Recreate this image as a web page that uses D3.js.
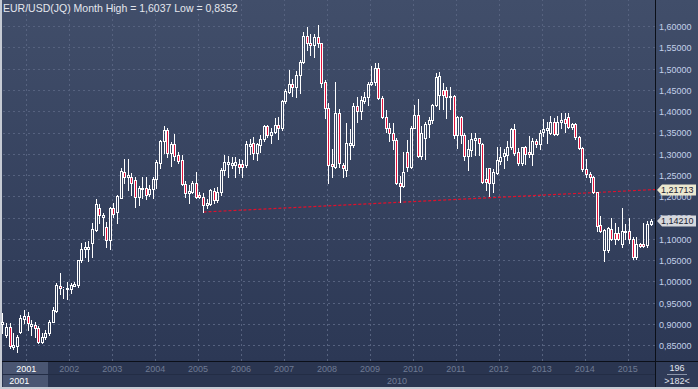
<!DOCTYPE html>
<html>
<head>
<meta charset="utf-8">
<script src="https://cdn.jsdelivr.net/npm/d3@7/dist/d3.min.js"></script>
<style>
body { margin: 0; background: #c6cbd4; }
svg { display: block; }
text { font-family: "Liberation Sans", Arial, sans-serif; font-size: 9px; }
</style>
</head>
<body>
<script>
// monthly EUR/USD bars
var opens = [0.902,0.875,0.895,0.848,0.849,0.883,0.912,0.920,0.896,0.899,0.891,0.859,0.871,0.880,0.906,0.932,0.991,0.985,0.983,0.983,
0.991,0.993,1.051,1.077,1.077,1.092,1.122,1.173,1.153,1.128,1.098,1.173,1.165,1.197,1.259,1.247,1.247,1.240,1.199,1.218,
1.220,1.207,1.218,1.243,1.280,1.332,1.357,1.302,1.324,1.298,1.287,1.230,1.210,1.212,1.233,1.204,1.199,1.181,1.183,1.214,
1.192,1.212,1.263,1.277,1.275,1.275,1.277,1.277,1.275,1.320,1.327,1.304,1.322,1.335,1.367,1.345,1.353,1.369,1.361,1.426,
1.447,1.465,1.459,1.486,1.518,1.578,1.562,1.557,1.576,1.561,1.471,1.408,1.277,1.271,1.396,1.275,1.263,1.322,1.322,1.413,
1.402,1.426,1.434,1.465,1.471,1.502,1.432,1.387,1.363,1.351,1.334,1.232,1.225,1.306,1.269,1.363,1.392,1.296,1.338,1.371,
1.381,1.416,1.439,1.451,1.451,1.437,1.437,1.345,1.387,1.345,1.296,1.310,1.334,1.338,1.324,1.241,1.267,1.232,1.257,1.285,
1.296,1.298,1.318,1.359,1.306,1.280,1.316,1.306,1.300,1.332,1.324,1.353,1.356,1.349,1.377,1.348,1.377,1.382,1.387,1.365,
1.371,1.340,1.314,1.265,1.254,1.246,1.212,1.134,1.075,1.075,1.124,1.116,1.116,1.089,1.118,1.120,1.102,1.058,1.089,1.089,
1.087,1.136];
var highs = [0.926,0.904,0.904,0.880,0.875,0.922,0.934,0.930,0.910,0.906,0.896,0.879,0.887,0.910,0.942,0.997,1.022,0.989,1.000,0.997,
1.000,1.051,1.092,1.094,1.097,1.138,1.194,1.183,1.161,1.141,1.177,1.186,1.204,1.267,1.290,1.288,1.255,1.247,1.225,1.247,
1.247,1.228,1.247,1.287,1.334,1.367,1.361,1.330,1.348,1.306,1.298,1.238,1.228,1.238,1.259,1.212,1.208,1.194,1.218,1.220,
1.224,1.267,1.298,1.296,1.294,1.294,1.288,1.287,1.332,1.335,1.340,1.327,1.345,1.369,1.369,1.361,1.385,1.387,1.428,1.453,
1.498,1.476,1.497,1.522,1.588,1.600,1.584,1.584,1.6037,1.562,1.475,1.420,1.312,1.471,1.406,1.280,1.373,1.359,1.420,1.435,
1.437,1.447,1.471,1.508,1.515,1.515,1.437,1.404,1.373,1.373,1.338,1.249,1.306,1.334,1.367,1.416,1.429,1.367,1.377,1.387,
1.418,1.490,1.494,1.467,1.459,1.459,1.439,1.389,1.389,1.349,1.334,1.349,1.349,1.338,1.327,1.267,1.267,1.265,1.318,1.316,
1.312,1.332,1.361,1.371,1.314,1.318,1.320,1.343,1.338,1.335,1.357,1.382,1.377,1.390,1.385,1.389,1.396,1.396,1.398,1.374,
1.373,1.343,1.318,1.288,1.259,1.249,1.212,1.155,1.124,1.130,1.150,1.139,1.130,1.173,1.136,1.150,1.106,1.106,1.092,1.138,
1.144,1.147];
var lows = [0.879,0.871,0.844,0.842,0.8352,0.879,0.903,0.887,0.875,0.871,0.857,0.857,0.865,0.875,0.906,0.930,0.972,0.961,0.959,0.973,
0.990,0.989,1.047,1.058,1.050,1.059,1.120,1.138,1.110,1.083,1.077,1.153,1.138,1.197,1.233,1.216,1.204,1.177,1.181,1.197,
1.194,1.202,1.197,1.220,1.267,1.302,1.294,1.272,1.287,1.279,1.228,1.199,1.186,1.208,1.197,1.197,1.165,1.173,1.181,1.185,
1.189,1.204,1.251,1.247,1.267,1.246,1.257,1.247,1.269,1.301,1.288,1.287,1.306,1.332,1.341,1.326,1.349,1.335,1.356,1.420,
1.443,1.437,1.435,1.443,1.515,1.545,1.533,1.528,1.553,1.459,1.385,1.232,1.247,1.267,1.271,1.247,1.249,1.288,1.318,1.377,
1.382,1.420,1.416,1.463,1.463,1.429,1.385,1.353,1.332,1.312,1.230,1.189,1.224,1.261,1.267,1.361,1.294,1.288,1.288,1.341,
1.374,1.414,1.406,1.406,1.385,1.406,1.338,1.314,1.327,1.287,1.263,1.296,1.298,1.298,1.233,1.216,1.202,1.212,1.254,1.277,
1.267,1.287,1.312,1.298,1.275,1.275,1.277,1.294,1.275,1.316,1.312,1.343,1.327,1.347,1.345,1.345,1.361,1.353,1.361,1.359,
1.335,1.312,1.261,1.247,1.236,1.210,1.120,1.118,1.050,1.071,1.098,1.089,1.098,1.083,1.102,1.091,1.055,1.053,1.083,1.083,
1.083,1.134];
var closes = [0.905,0.895,0.849,0.851,0.871,0.914,0.920,0.903,0.901,0.891,0.859,0.871,0.880,0.906,0.935,0.993,0.985,0.986,0.986,0.993,
0.994,1.051,1.077,1.081,1.083,1.124,1.183,1.157,1.157,1.098,1.173,1.160,1.202,1.261,1.247,1.251,1.232,1.199,1.220,1.220,
1.204,1.218,1.243,1.283,1.332,1.357,1.302,1.324,1.296,1.285,1.230,1.210,1.214,1.233,1.200,1.199,1.181,1.185,1.216,1.192,
1.212,1.263,1.283,1.283,1.280,1.283,1.269,1.269,1.324,1.324,1.304,1.324,1.335,1.367,1.345,1.353,1.369,1.363,1.426,1.450,
1.465,1.459,1.486,1.518,1.578,1.561,1.557,1.576,1.561,1.467,1.408,1.275,1.273,1.396,1.280,1.267,1.326,1.327,1.414,1.402,
1.428,1.434,1.465,1.471,1.502,1.432,1.387,1.361,1.351,1.334,1.232,1.225,1.259,1.269,1.363,1.392,1.296,1.349,1.371,1.381,
1.416,1.481,1.483,1.439,1.435,1.435,1.345,1.387,1.345,1.296,1.312,1.335,1.338,1.326,1.236,1.236,1.232,1.259,1.287,1.294,
1.302,1.318,1.359,1.304,1.280,1.316,1.300,1.300,1.332,1.324,1.351,1.359,1.361,1.377,1.348,1.377,1.381,1.374,1.365,1.371,
1.340,1.314,1.265,1.254,1.246,1.212,1.131,1.120,1.122,1.126,1.100,1.100,1.100,1.120,1.120,1.102,1.058,1.089,1.084,1.084,
1.136,1.1421];

var years = ["2001","2002","2003","2004","2005","2006","2007","2008","2009","2010","2011","2012","2013","2014","2015"];
var firstYearBar = 7;      // bar where the 2001 label sits
var barsPerYear = 12;
var yTicks = [0.85,0.90,0.95,1.00,1.05,1.10,1.15,1.20,1.25,1.30,1.35,1.40,1.45,1.50,1.55,1.60];
var trendStartBar = 56, trendStartValue = 1.1643, trendEndValue = 1.21713;
var totalBars = 196;

var W = 698, H = 389;
var plotL = 2, plotR = 655, plotB = 361;
var n = opens.length;

var svg = d3.select("body").append("svg").attr("width", W).attr("height", H);

var grad = svg.append("defs").append("linearGradient")
    .attr("id", "bg").attr("x1", 0).attr("y1", 0).attr("x2", 0).attr("y2", 1);
grad.append("stop").attr("offset", "0%").attr("stop-color", "#414e6a");
grad.append("stop").attr("offset", "100%").attr("stop-color", "#2c3855");

// frame + panels
svg.append("rect").attr("width", W).attr("height", H).attr("fill", "#c6cbd4");
svg.append("rect").attr("x", plotL).attr("y", 0).attr("width", W - plotL).attr("height", plotB).attr("fill", "url(#bg)");
svg.append("rect").attr("x", plotL).attr("y", plotB).attr("width", W - plotL).attr("height", 26).attr("fill", "#2a3550");

var xLin = d3.scaleLinear().domain([0, n]).range([1.2, 652.8]);
var y = d3.scaleLinear().domain([0.8140, 1.6628]).range([plotB, 0]);

var fmt = function(v){ return d3.format(".5f")(v).replace(".", ","); };
var yearBars = years.map(function(d, k){ return firstYearBar + k * barsPerYear; });

// grid
var gy = svg.append("g").attr("transform", "translate(" + plotR + ",0)")
    .call(d3.axisLeft(y).tickValues(yTicks).tickSize(plotR - plotL).tickFormat(""));
gy.select(".domain").remove();
gy.selectAll("line").attr("stroke", "#56627f").attr("stroke-dasharray", "2,3")
    .attr("transform", "translate(0,-0.5)").attr("shape-rendering", "crispEdges");

var gx = svg.append("g").attr("transform", "translate(0," + plotB + ")")
    .call(d3.axisTop(xLin).tickValues(yearBars).tickSize(plotB).tickFormat(""));
gx.select(".domain").remove();
gx.selectAll("line").attr("stroke", "#56627f").attr("stroke-dasharray", "2,3")
    .attr("shape-rendering", "crispEdges");

// trend line
svg.append("line")
    .attr("x1", xLin(trendStartBar + 0.5)).attr("y1", y(trendStartValue))
    .attr("x2", plotR).attr("y2", y(trendEndValue))
    .attr("stroke", "#e0102c").attr("stroke-width", 1.2).attr("stroke-dasharray", "3,2");

// candles
var bars = d3.range(n).map(function(i){
    return {i: i, o: opens[i], h: highs[i], l: lows[i], c: closes[i]};
});
var cg = svg.append("g").attr("shape-rendering", "crispEdges");
bars.forEach(function(d){
    var cx = Math.floor(xLin(d.i + 0.5));
    var top = Math.round(y(Math.max(d.o, d.c)));
    var bot = Math.round(y(Math.min(d.o, d.c)));
    var yh = Math.round(y(d.h)), yl = Math.round(y(d.l));
    if (yh < top) cg.append("line").attr("x1", cx + 0.5).attr("x2", cx + 0.5).attr("y1", yh).attr("y2", top).attr("stroke", "#fff");
    if (yl > bot) cg.append("line").attr("x1", cx + 0.5).attr("x2", cx + 0.5).attr("y1", bot + 1).attr("y2", yl + 1).attr("stroke", "#fff");
    cg.append("rect")
        .attr("x", cx - 0.5).attr("y", top + 0.5)
        .attr("width", 2).attr("height", Math.max(0, bot - top))
        .attr("fill", d.c < d.o ? "#e5133d" : "none")
        .attr("stroke", "#fff").attr("stroke-width", 1);
});

// separators
svg.append("line").attr("x1", plotR + 0.5).attr("x2", plotR + 0.5).attr("y1", 0).attr("y2", 387)
    .attr("stroke", "#0b0f18");
svg.append("line").attr("x1", plotL).attr("x2", W).attr("y1", plotB + 0.5).attr("y2", plotB + 0.5)
    .attr("stroke", "#0b0f18");

// right price axis
var ay = svg.append("g").attr("transform", "translate(" + plotR + ",0)")
    .call(d3.axisRight(y).tickValues(yTicks).tickSize(0).tickPadding(4).tickFormat(fmt));
ay.select(".domain").remove();
ay.selectAll("text").attr("fill", "#c3d1ea").style("font-size", "9px").style("font-family", "Liberation Sans, Arial, sans-serif");

// price markers
function marker(v, bg){
    var yy = Math.round(y(v));
    var g = svg.append("g").attr("transform", "translate(" + (plotR + 1) + "," + yy + ")");
    g.append("path").attr("d", "M1,0 L6,-5.5 L40,-5.5 L40,5.5 L6,5.5 Z").attr("fill", bg);
    g.append("text").attr("x", 5).attr("y", 0).attr("dy", "0.33em").attr("fill", "#1b2233").text(fmt(v));
}
marker(trendEndValue, "#ebe8cf");
marker(closes[n - 1], "#d6d8dd");

// bottom time axis
svg.append("rect").attr("x", 3).attr("y", plotB + 1).attr("width", 45).attr("height", 25).attr("fill", "#4a5672");
svg.append("line").attr("x1", plotL).attr("x2", plotR).attr("y1", 374.5).attr("y2", 374.5).attr("stroke", "#232d45");
svg.selectAll(".yl").data(years).enter().append("text")
    .attr("x", function(d, k){ return xLin(yearBars[k]); })
    .attr("y", 372).attr("text-anchor", "middle")
    .attr("fill", function(d, k){ return k === 0 ? "#ffffff" : "#6e7a93"; })
    .text(function(d){ return d; });
svg.append("text").attr("x", xLin(yearBars[0]) - 17).attr("y", 384).attr("fill", "#ffffff").text(years[0]);
svg.append("text").attr("x", xLin(yearBars[9]) - 26).attr("y", 384).attr("fill", "#717d96").text(years[9]);

// bar count box
svg.append("rect").attr("x", plotR + 1).attr("y", plotB + 1).attr("width", W - plotR - 1).attr("height", 25).attr("fill", "#2f3b58");
svg.append("text").attr("x", 677).attr("y", 371).attr("text-anchor", "middle").attr("fill", "#e2e6ee").text(totalBars);
svg.append("line").attr("x1", 667).attr("x2", 687).attr("y1", 374.5).attr("y2", 374.5).attr("stroke", "#8a94a8");
svg.append("text").attr("x", 677).attr("y", 384).attr("text-anchor", "middle").attr("fill", "#e2e6ee").text(">" + n + "<");

// title
svg.append("text").attr("x", 3).attr("y", 12).attr("fill", "#e4e7ee").style("font-size", "10.5px")
    .text("EUR/USD(JQ) Month High = " + fmt(d3.max(highs)).slice(0, 6) + " Low = " + fmt(d3.min(lows)).slice(0, 6));
</script>
</body>
</html>
